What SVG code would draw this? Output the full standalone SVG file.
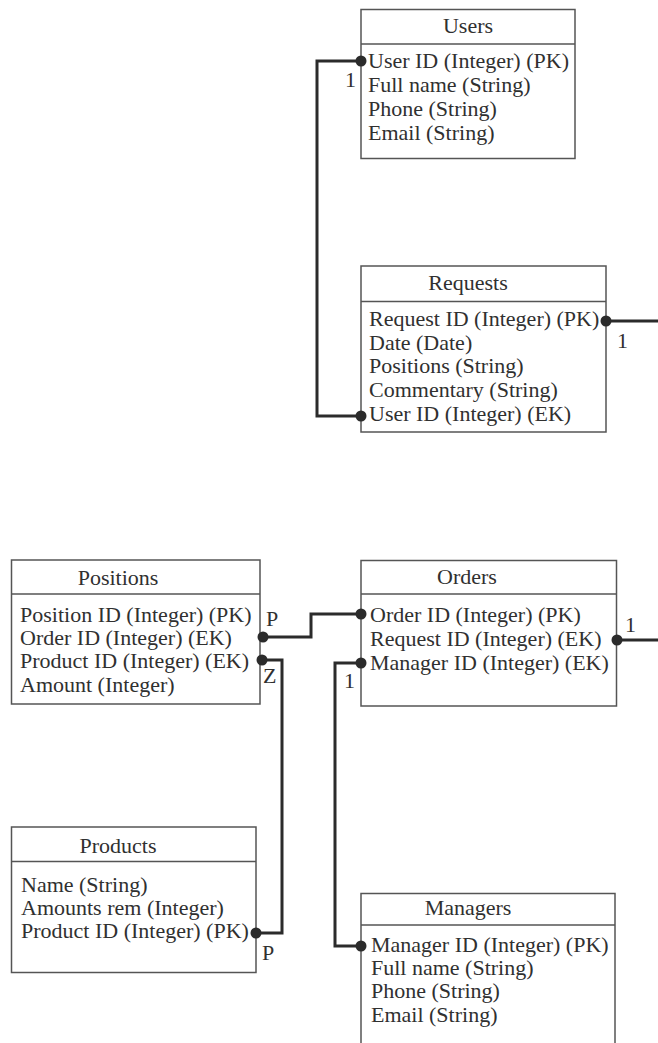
<svg xmlns="http://www.w3.org/2000/svg" width="658" height="1043" viewBox="0 0 658 1043">
  <style>
    .box { fill: #ffffff; stroke: #555555; stroke-width: 1.5; }
    .div { stroke: #555555; stroke-width: 1.5; }
    text { font-family: 'Liberation Serif', 'Times New Roman', 'DejaVu Serif', serif; font-size: 22px; fill: #303030; }
    .title { text-anchor: middle; }
    .wire { fill: none; stroke: #2b2b2b; stroke-width: 3; }
    .dot { fill: #2b2b2b; stroke: none; }
  </style>
  <rect width="658" height="1043" fill="#ffffff"/>

  <!-- Users -->
  <g id="users">
    <rect class="box" x="361" y="9.5" width="214" height="149"/>
    <line class="div" x1="361" y1="44" x2="575" y2="44"/>
    <text class="title" x="468" y="33">Users</text>
    <text x="368" y="68">User ID (Integer) (PK)</text>
    <text x="368" y="92">Full name (String)</text>
    <text x="368" y="116">Phone (String)</text>
    <text x="368" y="140">Email (String)</text>
  </g>

  <!-- Requests -->
  <g id="requests">
    <rect class="box" x="361" y="266" width="245" height="166"/>
    <line class="div" x1="361" y1="301.5" x2="606" y2="301.5"/>
    <text class="title" x="468" y="290">Requests</text>
    <text x="369" y="326">Request ID (Integer) (PK)</text>
    <text x="369" y="350">Date (Date)</text>
    <text x="369" y="373">Positions (String)</text>
    <text x="369" y="397">Commentary (String)</text>
    <text x="369" y="421">User ID (Integer) (EK)</text>
  </g>

  <!-- Positions -->
  <g id="positions">
    <rect class="box" x="11.5" y="560" width="248.5" height="144"/>
    <line class="div" x1="11.5" y1="594" x2="260" y2="594"/>
    <text class="title" x="118" y="585">Positions</text>
    <text x="20" y="622">Position ID (Integer) (PK)</text>
    <text x="20" y="645">Order ID (Integer) (EK)</text>
    <text x="20" y="668">Product ID (Integer) (EK)</text>
    <text x="20" y="692">Amount (Integer)</text>
  </g>

  <!-- Orders -->
  <g id="orders">
    <rect class="box" x="361" y="560.5" width="255.5" height="145.5"/>
    <line class="div" x1="361" y1="594" x2="616.5" y2="594"/>
    <text class="title" x="467" y="584">Orders</text>
    <text x="370" y="622">Order ID (Integer) (PK)</text>
    <text x="370" y="646">Request ID (Integer) (EK)</text>
    <text x="370" y="670">Manager ID (Integer) (EK)</text>
  </g>

  <!-- Products -->
  <g id="products">
    <rect class="box" x="11.5" y="827" width="244.5" height="145.5"/>
    <line class="div" x1="11.5" y1="861.5" x2="256" y2="861.5"/>
    <text class="title" x="118" y="853">Products</text>
    <text x="21" y="892">Name (String)</text>
    <text x="21" y="915">Amounts rem (Integer)</text>
    <text x="21" y="938">Product ID (Integer) (PK)</text>
  </g>

  <!-- Managers (runs off the bottom edge) -->
  <g id="managers">
    <rect class="box" x="361" y="893.5" width="254" height="160"/>
    <line class="div" x1="361" y1="925" x2="615" y2="925"/>
    <text class="title" x="468" y="915">Managers</text>
    <text x="371" y="952">Manager ID (Integer) (PK)</text>
    <text x="371" y="975">Full name (String)</text>
    <text x="371" y="998">Phone (String)</text>
    <text x="371" y="1022">Email (String)</text>
  </g>

  <!-- Connectors, drawn on top so the end dots overlap the box edges -->
  <g id="connectors">
    <polyline class="wire" points="361,61 317,61 317,416 361,416"/>
    <polyline class="wire" points="606,321 658,321"/>
    <polyline class="wire" points="263,637 311,637 311,614 361,614"/>
    <polyline class="wire" points="262,660 282,660 282,933 256,933"/>
    <polyline class="wire" points="617,640 658,640"/>
    <polyline class="wire" points="361,663 335,663 335,946 361,946"/>
    <circle class="dot" cx="361" cy="61" r="5.5"/>
    <circle class="dot" cx="361" cy="416" r="5.5"/>
    <circle class="dot" cx="606" cy="321" r="5.5"/>
    <circle class="dot" cx="263" cy="637" r="5.5"/>
    <circle class="dot" cx="361" cy="614" r="5.5"/>
    <circle class="dot" cx="262" cy="660" r="5.5"/>
    <circle class="dot" cx="256" cy="933" r="5.5"/>
    <circle class="dot" cx="617" cy="640" r="5.5"/>
    <circle class="dot" cx="361" cy="663" r="5.5"/>
    <circle class="dot" cx="361" cy="946" r="5.5"/>
    <text x="345" y="87">1</text>
    <text x="617" y="348">1</text>
    <text x="266" y="626">P</text>
    <text x="263" y="683">Z</text>
    <text x="262" y="960">P</text>
    <text x="625" y="632">1</text>
    <text x="344" y="688">1</text>
  </g>
</svg>
